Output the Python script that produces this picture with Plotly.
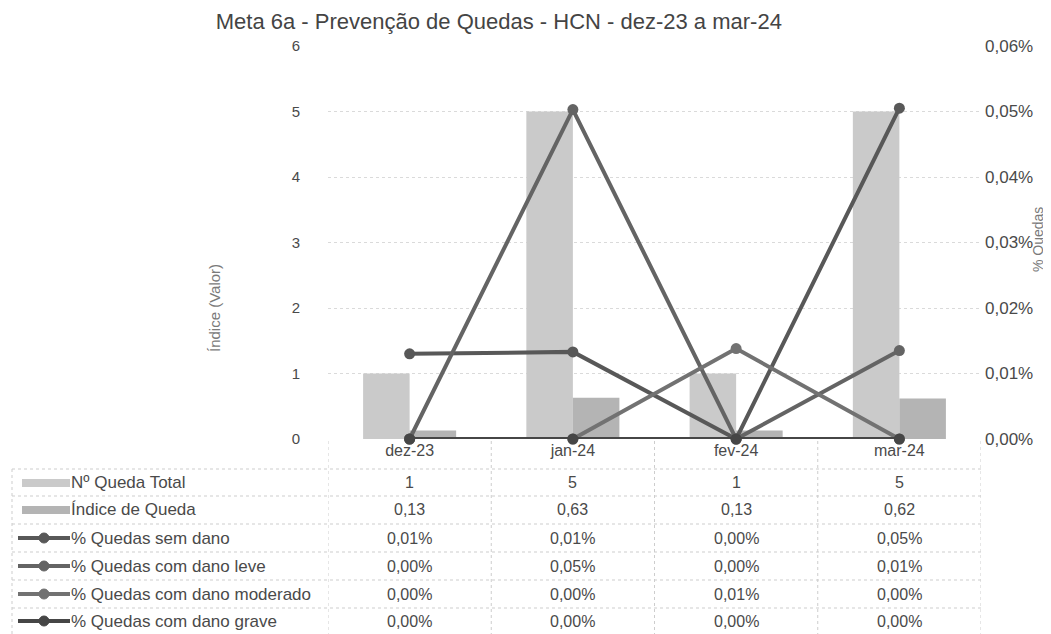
import plotly.graph_objects as go

# ---------------- data ----------------
categorias = ["dez-23", "jan-24", "fev-24", "mar-24"]
queda_total = [1, 5, 1, 5]
indice_queda = [0.13, 0.63, 0.13, 0.62]
pct_sem_dano = [0.00013, 0.000133, 0.0, 0.000505]
pct_dano_leve = [0.0, 0.000503, 0.0, 0.000135]
pct_dano_moderado = [0.0, 0.0, 0.000138, 0.0]
pct_dano_grave = [0.0, 0.0, 0.0, 0.0]

nomes = ["Nº Queda Total", "Índice de Queda", "% Quedas sem dano",
         "% Quedas com dano leve", "% Quedas com dano moderado", "% Quedas com dano grave"]
titulo = "Meta 6a - Prevenção de Quedas - HCN - dez-23 a mar-24"
titulo_y = "Índice (Valor)"
titulo_y2 = "% Quedas"
ticks_y = [0, 1, 2, 3, 4, 5, 6]
ticks_y2 = [0, 0.0001, 0.0002, 0.0003, 0.0004, 0.0005, 0.0006]

# ---------------- styling ----------------
W, H = 1051, 634
L, R, T, B = 320, 973, 38, 431
FONT = "Liberation Sans, Arial, sans-serif"
TXT = "#4a4a4a"
bar_cols = ["#cacaca", "#b4b4b4"]
line_cols = ["#585858", "#646464", "#727272", "#464646"]


def py(p):  # pixel y -> paper y
    return (B - p) / (B - T)


def px(p):  # pixel x -> paper x
    return (p - L) / (R - L)


fig = go.Figure()
fig.add_trace(go.Bar(x=categorias, y=queda_total, name=nomes[0],
                     marker=dict(color=bar_cols[0], line=dict(width=0))))
fig.add_trace(go.Bar(x=categorias, y=indice_queda, name=nomes[1],
                     marker=dict(color=bar_cols[1], line=dict(width=0))))
series = [pct_sem_dano, pct_dano_leve, pct_dano_moderado, pct_dano_grave]
for i, s in enumerate(series):
    fig.add_trace(go.Scatter(x=categorias, y=s, name=nomes[2 + i], yaxis="y2",
                             mode="lines+markers", cliponaxis=False,
                             line=dict(color=line_cols[i], width=4),
                             marker=dict(color=line_cols[i], size=11)))

annotations = []
shapes = []


def fmt_int(v):
    return f"{v:d}"


def fmt_dec(v):
    return f"{v:.2f}".replace(".", ",")


def fmt_pct(v):
    return f"{v*100:.2f}%".replace(".", ",")


rows = [[fmt_int(v) for v in queda_total],
        [fmt_dec(v) for v in indice_queda]] + [[fmt_pct(v) for v in s] for s in series]
row_centers = [475, 502, 530, 558, 586, 613]
for r, vals in enumerate(rows):
    for c, txt in enumerate(vals):
        annotations.append(dict(x=categorias[c], xref="x", y=py(row_centers[r]), yref="paper",
                                text=txt, showarrow=False, xanchor="center", yanchor="middle",
                                font=dict(family=FONT, size=16, color=TXT)))
    annotations.append(dict(x=px(61), xref="paper", y=py(row_centers[r]), yref="paper",
                            text=nomes[r], showarrow=False, xanchor="left", yanchor="middle",
                            font=dict(family=FONT, size=17, color=TXT)))
    yc = py(row_centers[r])
    if r < 2:
        shapes.append(dict(type="rect", xref="paper", yref="paper",
                           x0=px(14), x1=px(62), y0=py(row_centers[r] + 4), y1=py(row_centers[r] - 4),
                           fillcolor=bar_cols[r], line=dict(width=0)))
    else:
        col = line_cols[r - 2]
        shapes.append(dict(type="line", xref="paper", yref="paper",
                           x0=px(10), x1=px(62), y0=yc, y1=yc, line=dict(color=col, width=4)))
        shapes.append(dict(type="circle", xref="paper", yref="paper",
                           x0=px(31), x1=px(41), y0=py(row_centers[r] + 5), y1=py(row_centers[r] - 5),
                           fillcolor=col, line=dict(color=col, width=1)))

# table grid
grid = dict(color="#cdcdcd", width=1, dash="dot")
for hy in [461, 488, 516, 544, 572, 600, 627]:
    shapes.append(dict(type="line", xref="paper", yref="paper", x0=px(4), x1=1,
                       y0=py(hy), y1=py(hy), line=grid))
for k in range(len(categorias) + 1):
    shapes.append(dict(type="line", xref="x", yref="paper", x0=k - 0.5, x1=k - 0.5,
                       y0=py(433), y1=py(627), line=grid))
shapes.append(dict(type="line", xref="paper", yref="paper", x0=px(4), x1=px(4),
                   y0=py(461), y1=py(627), line=grid))

# axis titles
annotations.append(dict(x=px(206), xref="paper", y=py(300), yref="paper", text=titulo_y,
                        textangle=-90, showarrow=False, xanchor="center", yanchor="middle",
                        font=dict(family=FONT, size=15, color="#7a7a7a")))
annotations.append(dict(x=px(1030), xref="paper", y=py(232), yref="paper", text=titulo_y2,
                        textangle=-90, showarrow=False, xanchor="center", yanchor="middle",
                        font=dict(family=FONT, size=14, color="#7a7a7a")))

fig.update_layout(
    width=W, height=H,
    margin=dict(l=L, r=W - R, t=T, b=H - B),
    paper_bgcolor="white", plot_bgcolor="white",
    separators=",.",
    showlegend=False,
    barmode="group", bargap=0.43, bargroupgap=0.0,
    title=dict(text=titulo, x=0.467, xref="container", xanchor="center",
               y=1 - 13 / H, yref="container", yanchor="middle",
               font=dict(family=FONT, size=22, color="#444444")),
    font=dict(family=FONT, color=TXT),
    xaxis=dict(type="category", categoryorder="array", categoryarray=categorias,
               range=[-0.5, len(categorias) - 0.5], showgrid=False, zeroline=False,
               showline=False, ticks="", tickfont=dict(family=FONT, size=16, color=TXT),
               ticklabelstandoff=0),
    yaxis=dict(range=[0, 6], tickvals=ticks_y, showgrid=True, gridcolor="#dadada",
               griddash="dot", gridwidth=1, zeroline=False, showline=False, ticks="",
               tickfont=dict(family=FONT, size=15, color=TXT), ticklabelstandoff=27),
    yaxis2=dict(range=[0, 0.0006], tickvals=ticks_y2, tickformat=".2%", overlaying="y",
                side="right", showgrid=False, zeroline=False, showline=False, ticks="",
                tickfont=dict(family=FONT, size=17, color=TXT), ticklabelstandoff=3),
    annotations=annotations,
    shapes=shapes,
)

fig.write_html("out.html")
